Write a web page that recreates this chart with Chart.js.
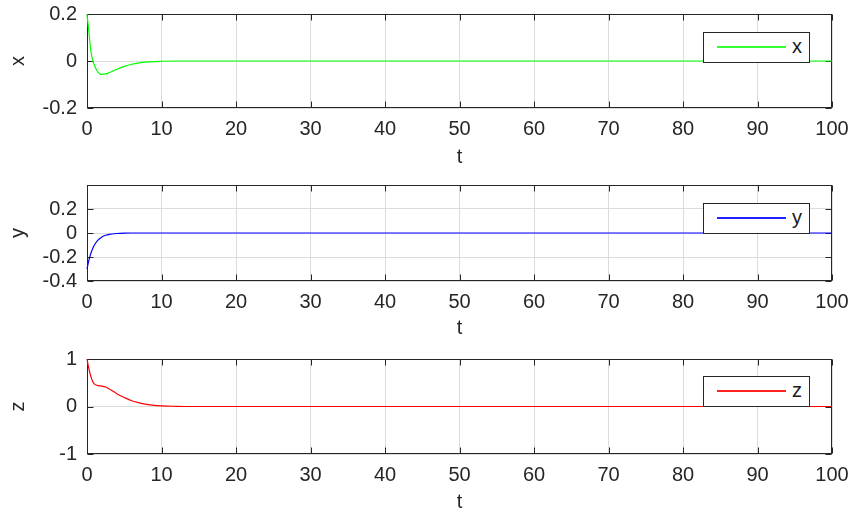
<!DOCTYPE html>
<html>
<head>
<meta charset="utf-8">
<script src="https://cdn.jsdelivr.net/npm/chart.js@4.4.1/dist/chart.umd.min.js"></script>
<style>
  body { margin: 0; background: #fff; width: 855px; height: 515px; position: relative; overflow: hidden; font-family: "Liberation Sans", Arial, sans-serif; }
  .panel { position: absolute; left: 0; width: 855px; height: 170px; }
  .legend { position: absolute; left: 703px; width: 107px; height: 31px; box-sizing: border-box; border: 1px solid #262626; background: #fff; }
  .legend .swatch { position: absolute; left: 13px; top: 13px; width: 69px; height: 2px; display: block; }
  .legend .label { position: absolute; left: 88px; top: 3px; font-size: 20px; line-height: 20px; color: #1a1a1a; }
</style>
</head>
<body>
<div class="panel" style="top:0"><canvas id="chartX"></canvas></div>
<div class="panel" style="top:171px"><canvas id="chartY"></canvas></div>
<div class="panel" style="top:345px"><canvas id="chartZ"></canvas></div>

<div class="legend" style="top:32px"><span class="swatch" style="background:#33ff33"></span><span class="label">x</span></div>
<div class="legend" style="top:203px"><span class="swatch" style="background:#2222ff"></span><span class="label">y</span></div>
<div class="legend" style="top:376px"><span class="swatch" style="background:#ff2222"></span><span class="label">z</span></div>

<script>
// time axis ticks (shared by all three panels)
const tTicks = [0, 10, 20, 30, 40, 50, 60, 70, 80, 90, 100];

// x(t)
const tX = [0, 0.25, 0.5, 0.75, 1, 1.25, 1.5, 1.75, 2, 2.5, 3, 3.5, 4, 5, 6, 7, 8, 10, 12, 100];
const xVals = [0.2, 0.125, 0.047, 0.005, -0.018, -0.036, -0.048, -0.055, -0.057, -0.055, -0.049, -0.042, -0.035, -0.023, -0.014, -0.008, -0.004, -0.001, 0, 0];
const xTicks = [-0.2, 0, 0.2];
const xTickLabels = ['-0.2', '0', '0.2'];

// y(t)
const tY = [0, 0.25, 0.5, 0.75, 1, 1.5, 2, 2.5, 3, 4, 5, 6, 100];
const yVals = [-0.3, -0.228, -0.173, -0.131, -0.1, -0.058, -0.033, -0.019, -0.011, -0.004, -0.001, 0, 0];
const yTicks = [-0.4, -0.2, 0, 0.2, 0.4];
const yTickLabels = ['-0.4', '-0.2', '0', '0.2', ''];

// z(t)
const tZ = [0, 0.25, 0.5, 0.75, 1, 1.5, 2, 2.5, 3, 3.5, 4, 5, 6, 7, 8, 9, 10, 12, 14, 100];
const zVals = [1, 0.8, 0.64, 0.53, 0.47, 0.44, 0.43, 0.41, 0.37, 0.32, 0.27, 0.19, 0.12, 0.075, 0.045, 0.025, 0.013, 0.004, 0, 0];
const zTicks = [-1, 0, 1];
const zTickLabels = ['-1', '0', '1'];

const FONT = { family: '"Liberation Sans", Arial, sans-serif', size: 20 };
const INK = '#262626';
const GRID = '#dcdcdc';

// box around the plot area plus short inward tick marks
const boxTicks = {
    id: 'boxTicks',
    beforeDatasetsDraw(chart) {
        const { ctx, chartArea: a, scales } = chart;
        const L = Math.round(a.left) + 0.5, R = Math.round(a.right) - 0.5;
        const T = Math.round(a.top) + 0.5, B = Math.round(a.bottom) - 0.5;
        ctx.save();
        ctx.strokeStyle = INK;
        ctx.lineWidth = 1;
        ctx.beginPath();
        scales.x.ticks.forEach(t => {
            const px = Math.round(scales.x.getPixelForValue(t.value)) + 0.5;
            ctx.moveTo(px, T); ctx.lineTo(px, T + 6);
            ctx.moveTo(px, B); ctx.lineTo(px, B - 6);
        });
        scales.y.ticks.forEach(t => {
            const py = Math.round(scales.y.getPixelForValue(t.value)) + 0.5;
            ctx.moveTo(L, py); ctx.lineTo(L + 6, py);
            ctx.moveTo(R, py); ctx.lineTo(R - 6, py);
        });
        ctx.stroke();
        ctx.strokeRect(L, T, R - L, B - T);
        ctx.restore();
    }
};

// plot box of every panel, in canvas coordinates
const AREA_LEFT = 87, AREA_RIGHT = 832, AREA_TOP = 14;

function makePanel(id, tVals, vals, color, ticks, labels, title, areaH) {
    const points = tVals.map((t, i) => ({ x: t, y: vals[i] }));
    new Chart(document.getElementById(id), {
        type: 'line',
        data: {
            datasets: [{
                data: points,
                borderColor: color,
                borderWidth: 1.2,
                pointRadius: 0,
                cubicInterpolationMode: 'monotone',
                fill: false,
                clip: 3
            }]
        },
        options: {
            responsive: true,
            maintainAspectRatio: false,
            animation: false,
            events: [],
            layout: { padding: { top: AREA_TOP, right: 855 - AREA_RIGHT, left: 0, bottom: 0 } },
            plugins: { legend: { display: false }, tooltip: { enabled: false } },
            scales: {
                x: {
                    type: 'linear',
                    min: 0,
                    max: 100,
                    afterBuildTicks: s => { s.ticks = tTicks.map(v => ({ value: v })); },
                    // fixed axis height, and no extra room for the end labels
                    afterFit: s => {
                        s.height = 170 - AREA_TOP - areaH;
                        s.paddingLeft = 0;
                        s.paddingRight = 0;
                    },
                    ticks: { color: INK, font: FONT, padding: 9, maxRotation: 0, autoSkip: false },
                    grid: { color: GRID, drawTicks: false },
                    border: { display: false },
                    title: { display: true, text: 't', color: INK, font: FONT, padding: { top: 0, bottom: 1 } }
                },
                y: {
                    min: ticks[0],
                    max: ticks[ticks.length - 1],
                    afterBuildTicks: s => { s.ticks = ticks.map(v => ({ value: v })); },
                    afterFit: s => {
                        s.width = AREA_LEFT;
                        s.paddingTop = 0;
                        s.paddingBottom = 0;
                    },
                    ticks: { color: INK, font: FONT, padding: 10, autoSkip: false, callback: (v, i) => labels[i] },
                    grid: { color: GRID, drawTicks: false },
                    border: { display: false },
                    title: { display: true, text: title, color: INK, font: FONT, padding: { top: 6, bottom: 0 } }
                }
            }
        },
        plugins: [boxTicks]
    });
}

makePanel('chartX', tX, xVals, '#00ff00', xTicks, xTickLabels, 'x', 94);
makePanel('chartY', tY, yVals, '#0000ff', yTicks, yTickLabels, 'y', 96);
makePanel('chartZ', tZ, zVals, '#ff0000', zTicks, zTickLabels, 'z', 95);
</script>
</body>
</html>
